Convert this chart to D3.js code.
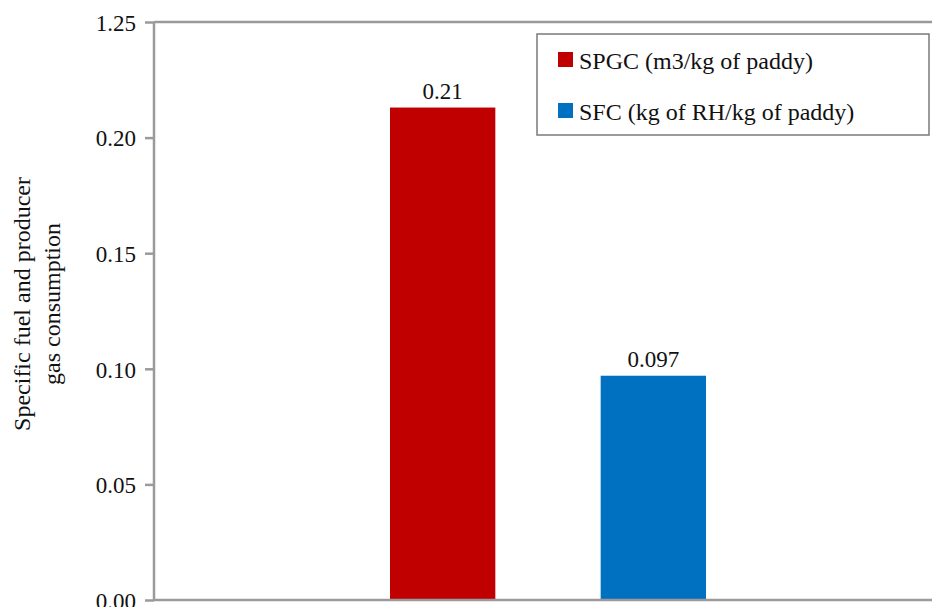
<!DOCTYPE html>
<html>
<head>
<meta charset="utf-8">
<script src="https://cdn.jsdelivr.net/npm/d3@7"></script>
<style>
  html, body { margin: 0; padding: 0; background: #fff; }
  svg { display: block; font-family: "Liberation Serif", "Times New Roman", serif; }
</style>
</head>
<body>
<svg id="chart" width="932" height="607"></svg>
<script>
// Series shown as bars
const seriesNames = ["SPGC (m3/kg of paddy)", "SFC (kg of RH/kg of paddy)"];
const seriesKeys = ["SPGC", "SFC"];
const seriesValues = [0.213, 0.097];
const seriesColors = ["#C00000", "#0070C0"];

// Y-axis ticks and their printed labels
const tickValues = [0, 0.05, 0.10, 0.15, 0.20, 0.25];
const tickLabels = ["0.00", "0.05", "0.10", "0.15", "0.20", "1.25"];

const yTitle = ["Specific fuel and producer", "gas consumption"];

const svg = d3.select("#chart");
const axisColor = "#9a9a9a";
const fontFamily = "'Liberation Serif', 'Times New Roman', serif";
const fontSize = 23;

const plot = { left: 154, right: 940, top: 22, bottom: 600 };

const y = d3.scaleLinear().domain([0, 0.25]).range([plot.bottom, plot.top]);
const x = d3.scaleBand()
  .domain(seriesKeys)
  .range([232, 864])
  .paddingInner(0.5)
  .paddingOuter(0.75);

// Bars
svg.append("g").selectAll("rect")
  .data(seriesKeys.map((k, i) => ({ key: k, value: seriesValues[i], color: seriesColors[i] })))
  .join("rect")
  .attr("x", d => x(d.key))
  .attr("y", d => y(d.value))
  .attr("width", x.bandwidth())
  .attr("height", d => y(0) - y(d.value))
  .attr("fill", d => d.color);

// Value labels above bars
const fmt = d3.format(".2r");
svg.append("g").selectAll("text")
  .data(seriesKeys.map((k, i) => ({ key: k, value: seriesValues[i] })))
  .join("text")
  .attr("x", d => x(d.key) + x.bandwidth() / 2)
  .attr("y", d => y(d.value) - 9)
  .attr("text-anchor", "middle")
  .attr("font-family", fontFamily)
  .attr("font-size", fontSize)
  .attr("fill", "#111")
  .text(d => fmt(d.value));

// Left axis
const yAxis = d3.axisLeft(y)
  .tickValues(tickValues)
  .tickFormat((d, i) => tickLabels[i])
  .tickSize(9)
  .tickPadding(9);

const gy = svg.append("g")
  .attr("transform", `translate(${plot.left},0)`)
  .call(yAxis)
  .attr("font-family", fontFamily);
gy.select(".domain").attr("stroke", axisColor).attr("stroke-width", 2.5)
  .attr("d", `M0,${plot.top}V${plot.bottom}`);
gy.selectAll(".tick line").attr("stroke", axisColor).attr("stroke-width", 2.5);
gy.selectAll(".tick text")
  .attr("font-size", fontSize)
  .attr("fill", "#111")
  .attr("dy", "0.36em");

// Top and bottom frame lines
[plot.top, plot.bottom].forEach(v => {
  svg.append("line")
    .attr("x1", plot.left).attr("x2", plot.right)
    .attr("y1", v).attr("y2", v)
    .attr("stroke", axisColor).attr("stroke-width", 2.5);
});

// Y-axis title (two lines, rotated)
const title = svg.append("text")
  .attr("transform", "translate(30,304) rotate(-90)")
  .attr("text-anchor", "middle")
  .attr("font-family", fontFamily)
  .attr("font-size", 24)
  .attr("fill", "#111");
title.selectAll("tspan")
  .data(yTitle)
  .join("tspan")
  .attr("x", 0)
  .attr("dy", (d, i) => i === 0 ? 0 : 30)
  .text(d => d);

// Legend
const legend = svg.append("g");
legend.append("rect")
  .attr("x", 537).attr("y", 34)
  .attr("width", 392).attr("height", 101)
  .attr("fill", "#fff")
  .attr("stroke", "#7a7a7a")
  .attr("stroke-width", 1.5);
const items = legend.selectAll("g.item")
  .data(seriesNames.map((n, i) => ({ name: n, color: seriesColors[i] })))
  .join("g")
  .attr("class", "item")
  .attr("transform", (d, i) => `translate(558,${52 + i * 51})`);
items.append("rect")
  .attr("width", 15).attr("height", 15)
  .attr("fill", d => d.color);
items.append("text")
  .attr("x", 21).attr("y", 17)
  .attr("font-family", fontFamily)
  .attr("font-size", 24)
  .attr("fill", "#111")
  .text(d => d.name);
</script>
</body>
</html>
